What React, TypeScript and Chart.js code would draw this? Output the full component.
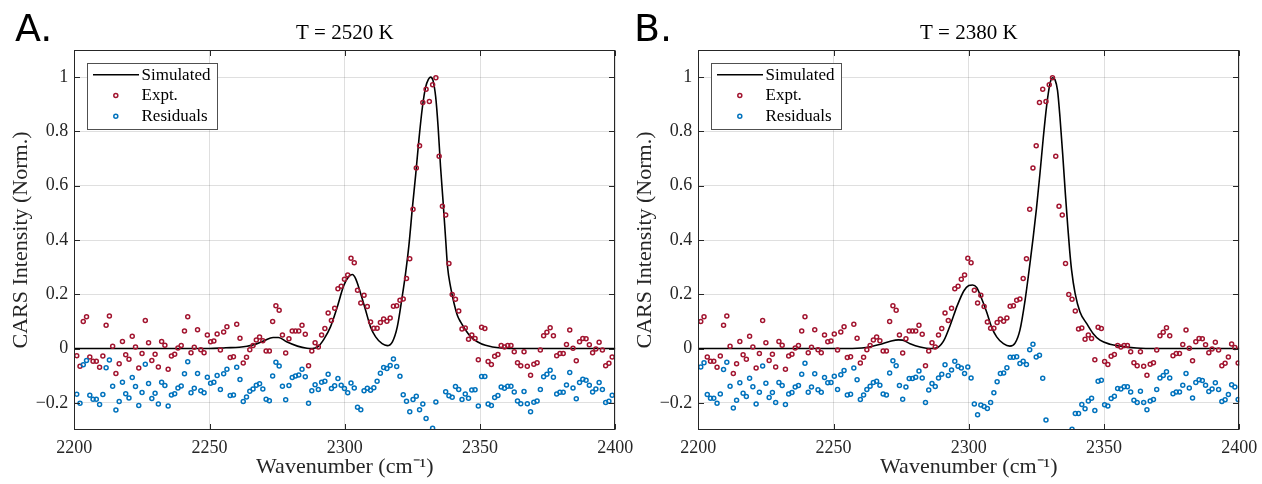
import React, { useEffect, useRef } from 'react';
import { Chart, registerables } from 'chart.js';

Chart.register(...registerables);

// ---------------- data ----------------
const X_TICKS = [2200, 2250, 2300, 2350, 2400];
const Y_TICKS = [-0.2, 0, 0.2, 0.4, 0.6, 0.8, 1];
const X_MIN = 2200;
const X_MAX = 2400;
const Y_MIN = -0.3;
const Y_MAX = 1.1;

// spectral sampling grid (start wavenumber, spacing) of each panel
const GRID_A_START = 2200.9;
const GRID_A_STEP = 1.207;
const GRID_B_START = 2198.5;
const GRID_B_STEP = 1.204;

// experimental spectrum (normalised), same measurement in both panels
const EXPT = [
  -0.026, -0.065, 0.100, 0.117, -0.031, -0.047, -0.047, -0.069, -0.027, 0.086,
  0.120, 0.009, -0.092, -0.056, 0.026, -0.023, -0.039, 0.045, 0.006, -0.072,
  -0.018, 0.103, 0.021, -0.044, -0.021, -0.068, 0.026, 0.012, -0.076, -0.027,
  -0.021, 0.002, 0.011, 0.065, 0.117, -0.015, 0.005, 0.069, -0.004, -0.015,
  0.050, 0.025, 0.028, 0.054, -0.005, 0.061, 0.080, -0.033, -0.030, 0.090,
  0.038, -0.053, -0.032, -0.004, 0.011, 0.032, 0.043, 0.029, -0.009, -0.009,
  0.100, 0.158, 0.141, 0.050, -0.016, 0.036, 0.065, 0.065, 0.065, 0.086,
  0.053, -0.063, -0.009, 0.021, 0.006, 0.050, 0.074, 0.131, 0.103, 0.149,
  0.220, 0.230, 0.255, 0.271, 0.333, 0.316, 0.215, 0.168, 0.196, 0.155,
  0.098, 0.075, 0.075, 0.096, 0.109, 0.101, 0.113, 0.156, 0.158, 0.178,
  0.183, 0.258, 0.331, 0.513, 0.665, 0.747, 0.907, 0.955, 0.910, 0.972,
  0.998, 0.709, 0.524, 0.492, 0.313, 0.199, 0.182, 0.138, 0.072, 0.076,
  0.034, 0.050, 0.037, -0.041, 0.079, 0.074, -0.048, -0.059, -0.028, -0.022,
  0.011, 0.006, 0.011, 0.011, -0.012, -0.052, -0.063, -0.012, -0.065, -0.098,
  -0.058, -0.052, -0.005, 0.047, 0.060, 0.077, 0.047, -0.026, -0.018, -0.018,
  0.015, 0.068, 0.001, -0.045, 0.025, 0.037, 0.036, 0.014, -0.015, -0.002,
  0.023, -0.005, -0.063, -0.054, -0.031, 0.017, 0.004, -0.053,
];

// residuals, panel A (null = below the visible range)
const RESID_A = [
  -0.168, -0.201, -0.060, -0.044, -0.172, -0.187, -0.187, -0.206, -0.169, -0.071,
  -0.042, -0.139, -0.226, -0.195, -0.124, -0.166, -0.182, -0.107, -0.140, -0.210,
  -0.162, -0.058, -0.129, -0.184, -0.165, -0.204, -0.124, -0.136, -0.212, -0.171,
  -0.166, -0.145, -0.138, -0.093, -0.049, -0.163, -0.146, -0.092, -0.155, -0.163,
  -0.106, -0.128, -0.124, -0.099, -0.151, -0.093, -0.076, -0.173, -0.171, -0.069,
  -0.114, -0.195, -0.178, -0.157, -0.149, -0.135, -0.130, -0.149, -0.187, -0.192,
  -0.101, -0.050, -0.064, -0.139, -0.189, -0.136, -0.107, -0.101, -0.097, -0.076,
  -0.104, -0.201, -0.155, -0.133, -0.151, -0.124, -0.120, -0.095, -0.147, -0.137,
  -0.110, -0.135, -0.147, -0.163, -0.127, -0.145, -0.216, -0.225, -0.155, -0.146,
  -0.154, -0.144, -0.120, -0.091, -0.070, -0.073, -0.062, -0.038, -0.066, -0.102,
  -0.170, -0.194, -0.233, -0.188, -0.176, -0.225, -0.204, -0.258, null, -0.294,
  -0.197, null, null, -0.159, -0.174, -0.179, -0.140, -0.151, -0.188, -0.167,
  -0.183, -0.153, -0.152, -0.212, -0.103, -0.103, -0.204, -0.210, -0.180, -0.173,
  -0.142, -0.146, -0.139, -0.139, -0.160, -0.193, -0.203, -0.158, -0.203, -0.233,
  -0.198, -0.193, -0.151, -0.104, -0.095, -0.080, -0.106, -0.167, -0.161, -0.161,
  -0.134, -0.088, -0.145, -0.185, -0.125, -0.113, -0.117, -0.135, -0.160, -0.149,
  -0.125, -0.151, -0.199, -0.194, -0.172, -0.133,
];

// residuals, panel B
const RESID_B = [
  null, null, -0.068, -0.052, -0.169, -0.183, -0.183, -0.201, -0.167, -0.077,
  -0.050, -0.139, -0.219, -0.190, -0.126, -0.165, -0.177, -0.109, -0.141, -0.204,
  -0.161, -0.064, -0.128, -0.180, -0.162, -0.199, -0.125, -0.136, -0.206, -0.167,
  -0.162, -0.142, -0.136, -0.095, -0.054, -0.161, -0.142, -0.093, -0.152, -0.161,
  -0.107, -0.126, -0.125, -0.102, -0.151, -0.096, -0.081, -0.171, -0.168, -0.072,
  -0.115, -0.188, -0.171, -0.151, -0.139, -0.125, -0.120, -0.135, -0.167, -0.171,
  -0.090, -0.045, -0.063, -0.136, -0.187, -0.142, -0.110, -0.110, -0.106, -0.083,
  -0.108, -0.199, -0.153, -0.129, -0.140, -0.108, -0.095, -0.060, -0.099, -0.079,
  -0.047, -0.065, -0.072, -0.092, -0.068, -0.108, -0.204, -0.244, -0.208, -0.213,
  -0.221, -0.199, -0.163, -0.122, -0.092, -0.090, -0.071, -0.032, -0.032, -0.030,
  -0.055, -0.047, -0.059, -0.004, 0.016, -0.031, -0.025, -0.109, -0.263, null,
  null, null, null, null, null, null, -0.297, -0.239, -0.239, -0.206,
  -0.222, -0.193, -0.183, -0.228, -0.120, -0.117, -0.207, -0.212, -0.184, -0.176,
  -0.147, -0.149, -0.141, -0.141, -0.160, -0.190, -0.199, -0.157, -0.199, -0.225,
  -0.193, -0.188, -0.151, -0.108, -0.099, -0.085, -0.108, -0.166, -0.160, -0.160,
  -0.135, -0.092, -0.145, -0.182, -0.125, -0.115, -0.118, -0.135, -0.158, -0.149,
  -0.126, -0.151, -0.195, -0.189, -0.169, -0.133, -0.142, -0.188,
];

// simulated spectra
const SIM_A_X = [
  2200, 2250, 2256, 2261, 2266, 2270, 2273.5, 2275.5, 2278.5, 2282.5,
  2286, 2288, 2290, 2292.3, 2294.7, 2297.2, 2299.6, 2301.5, 2302.8, 2304,
  2305.8, 2307.7, 2309.5, 2311.4, 2313.8, 2315.7, 2317.6, 2319.4, 2321.2, 2322.5,
  2323.7, 2325, 2326.2, 2327.4, 2328.7, 2329.9, 2330.9, 2331.7, 2332.6, 2333.6,
  2334.5, 2335.4, 2336.3, 2337.3, 2338, 2339.1, 2340.4, 2341.6, 2342.8, 2344.7,
  2346.6, 2349, 2352, 2357.7, 2365, 2400,
];
const SIM_A_Y = [
  0, 0, 0.003, 0.005, 0.013, 0.028, 0.041, 0.041, 0.025, 0.009,
  0.001, 0, 0.006, 0.035, 0.08, 0.153, 0.232, 0.266, 0.273, 0.258,
  0.205, 0.141, 0.08, 0.043, 0.018, 0.011, 0.025, 0.08, 0.19, 0.28,
  0.38, 0.52, 0.64, 0.77, 0.89, 0.964, 0.992, 1.0, 0.988, 0.927,
  0.816, 0.669, 0.546, 0.40, 0.30, 0.227, 0.166, 0.123, 0.098, 0.068,
  0.043, 0.025, 0.012, 0.002, 0, 0,
];
const SIM_B_X = [
  2200, 2255, 2262, 2267, 2271, 2274, 2275.5, 2278.3, 2282, 2286,
  2288.5, 2290.8, 2293.2, 2295.8, 2298.2, 2300, 2301.4, 2302.9, 2304.5, 2306.6,
  2308.4, 2310.3, 2312.8, 2315.2, 2317.1, 2318.9, 2320.8, 2322.6, 2323.8, 2325,
  2326.3, 2327.5, 2328.8, 2330, 2331, 2331.9, 2332.8, 2333.7, 2334.7, 2335.7,
  2336.6, 2337.3, 2338, 2339.3, 2341.1, 2343.6, 2346, 2348.5, 2352.2, 2355.9,
  2362, 2370, 2400,
];
const SIM_B_Y = [
  0, 0, 0.004, 0.015, 0.027, 0.032, 0.031, 0.018, 0.006, 0,
  0.004, 0.03, 0.088, 0.16, 0.213, 0.232, 0.234, 0.225, 0.19, 0.135,
  0.08, 0.043, 0.018, 0.009, 0.02, 0.068, 0.178, 0.313, 0.41, 0.515,
  0.644, 0.773, 0.896, 0.976, 0.998, 0.99, 0.951, 0.853, 0.718, 0.57,
  0.448, 0.36, 0.289, 0.203, 0.135, 0.092, 0.055, 0.031, 0.016, 0.009,
  0.002, 0, 0,
];

const SERIES_LABELS = ['Simulated', 'Expt.', 'Residuals'];
const TITLES = ['T = 2520 K', 'T = 2380 K'];
const LETTERS = ['A.', 'B.'];
const X_LABEL = 'Wavenumber (cm\u207B\u00B9)';
const Y_LABEL = 'CARS Intensity (Norm.)';

// ---------------- style ----------------
const SERIF = '"Liberation Serif", "Times New Roman", serif';
const RED = '#A2142F';
const BLUE = '#0072BD';
const AXIS = '#262626';
const GRID = 'rgba(38,38,38,0.15)';
const H = 484;

type PanelCfg = {
  left: number;
  width: number;
  yAxisWidth: number;
  padRight: number;
  yTitlePad: number;
  title: string;
  letter: string;
  letterX: number;
  simX: number[];
  simY: number[];
  resid: (number | null)[];
  start: number;
  step: number;
};

const PANELS: PanelCfg[] = [
  {
    left: 0, width: 641, yAxisWidth: 74.3, padRight: 25.7, yTitlePad: 8.3,
    title: TITLES[0], letter: LETTERS[0], letterX: 15,
    simX: SIM_A_X, simY: SIM_A_Y, resid: RESID_A, start: GRID_A_START, step: GRID_A_STEP,
  },
  {
    left: 631, width: 634, yAxisWidth: 67.3, padRight: 25.7, yTitlePad: 1.3,
    title: TITLES[1], letter: LETTERS[1], letterX: 634,
    simX: SIM_B_X, simY: SIM_B_Y, resid: RESID_B, start: GRID_B_START, step: GRID_B_STEP,
  },
];

function toPoints(vals: (number | null)[], start: number, step: number) {
  const out: { x: number; y: number }[] = [];
  vals.forEach((v, i) => {
    const x = start + step * i;
    if (v === null || x < X_MIN || x > X_MAX) return;
    out.push({ x, y: v });
  });
  return out;
}

function fmtY(v: number) {
  if (Math.abs(v) < 1e-9) return '0';
  if (Math.abs(v - 1) < 1e-9) return '1';
  return (v < 0 ? '\u2212' : '') + Math.abs(v).toFixed(1);
}

const framePlugin = {
  id: 'matlabFrame',
  afterDatasetsDraw(chart: any) {
    const { ctx, chartArea: a, scales } = chart;
    const L = Math.round(a.left) + 0.5;
    const R = Math.round(a.right) - 0.5;
    const T = Math.round(a.top) + 0.5;
    const B = Math.round(a.bottom) - 0.5;
    const tl = 5.5;
    ctx.save();
    ctx.strokeStyle = AXIS;
    ctx.lineWidth = 1;
    ctx.strokeRect(L, T, R - L, B - T);
    ctx.beginPath();
    X_TICKS.forEach((v) => {
      const x = Math.round(scales.x.getPixelForValue(v)) + 0.5;
      ctx.moveTo(x, B);
      ctx.lineTo(x, B - tl);
      ctx.moveTo(x, T);
      ctx.lineTo(x, T + tl);
    });
    Y_TICKS.forEach((v) => {
      const y = Math.round(scales.y.getPixelForValue(v)) + 0.5;
      ctx.moveTo(L, y);
      ctx.lineTo(L + tl, y);
      ctx.moveTo(R, y);
      ctx.lineTo(R - tl, y);
    });
    ctx.stroke();
    ctx.restore();
  },
};

const legendPlugin = {
  id: 'boxLegend',
  afterDraw(chart: any) {
    const { ctx, chartArea: a } = chart;
    const x0 = Math.round(a.left + 12.5) + 0.5;
    const y0 = Math.round(a.top + 12.8) + 0.5;
    const w = 130;
    const h = 66;
    ctx.save();
    ctx.fillStyle = '#ffffff';
    ctx.fillRect(x0, y0, w, h);
    ctx.strokeStyle = '#505050';
    ctx.lineWidth = 1;
    ctx.strokeRect(x0, y0, w, h);
    const rows = [11.3, 32, 52.8];
    const ds = chart.data.datasets;
    rows.forEach((dy, i) => {
      const y = y0 + dy;
      const d = ds[i];
      if (i === 0) {
        ctx.strokeStyle = '#000';
        ctx.lineWidth = 1.6;
        ctx.beginPath();
        ctx.moveTo(x0 + 5.5, y);
        ctx.lineTo(x0 + 51.5, y);
        ctx.stroke();
      } else {
        ctx.strokeStyle = d.borderColor;
        ctx.lineWidth = 1.5;
        ctx.beginPath();
        ctx.arc(x0 + 28.3, y, 2, 0, Math.PI * 2);
        ctx.stroke();
      }
      ctx.fillStyle = '#000';
      ctx.font = `17px ${SERIF}`;
      ctx.textBaseline = 'middle';
      ctx.textAlign = 'left';
      ctx.fillText(d.label, x0 + 54, y + 0.5);
    });
    ctx.restore();
  },
};

function Panel({ cfg }: { cfg: PanelCfg }) {
  const ref = useRef<HTMLCanvasElement | null>(null);
  useEffect(() => {
    if (!ref.current) return;
    const sim = cfg.simX.map((x, i) => ({ x, y: cfg.simY[i] }));
    const expt = toPoints(EXPT, cfg.start, cfg.step);
    const res = toPoints(cfg.resid, cfg.start, cfg.step);
    const chart = new Chart(ref.current, {
      type: 'scatter',
      data: {
        datasets: [
          {
            type: 'line',
            label: SERIES_LABELS[0],
            data: sim,
            borderColor: '#000000',
            borderWidth: 1.6,
            pointRadius: 0,
            cubicInterpolationMode: 'monotone',
            fill: false,
            order: 3,
          } as any,
          {
            label: SERIES_LABELS[1],
            data: expt,
            borderColor: RED,
            backgroundColor: 'rgba(255,255,255,0)',
            pointRadius: 2,
            borderWidth: 1.5,
            order: 2,
          },
          {
            label: SERIES_LABELS[2],
            data: res,
            borderColor: BLUE,
            backgroundColor: 'rgba(255,255,255,0)',
            pointRadius: 2,
            borderWidth: 1.5,
            order: 1,
          },
        ],
      },
      options: {
        responsive: false,
        animation: false,
        events: [],
        layout: { padding: { left: 0, right: cfg.padRight, top: 0, bottom: 0 } },
        plugins: {
          legend: { display: false },
          tooltip: { enabled: false },
          title: {
            display: true,
            text: cfg.title,
            fullSize: false,
            color: '#000',
            font: { family: SERIF, size: 21, weight: 'normal' },
            padding: { top: 21, bottom: 3.8 },
          },
        },
        scales: {
          x: {
            type: 'linear',
            min: X_MIN,
            max: X_MAX,
            afterBuildTicks: (s: any) => {
              s.ticks = X_TICKS.map((v) => ({ value: v }));
            },
            afterFit: (s: any) => {
              s.height = 54;
            },
            grid: { color: GRID, lineWidth: 1, drawTicks: false },
            border: { display: false },
            ticks: {
              color: AXIS,
              font: { family: SERIF, size: 18 },
              padding: 7,
              maxRotation: 0,
              autoSkip: false,
              callback: (v: any) => String(v),
            },
            title: {
              display: true,
              text: X_LABEL,
              color: AXIS,
              font: { family: SERIF, size: 22 },
              padding: { top: 0, bottom: 3.8 },
            },
          },
          y: {
            type: 'linear',
            min: Y_MIN,
            max: Y_MAX,
            afterBuildTicks: (s: any) => {
              s.ticks = Y_TICKS.map((v) => ({ value: v }));
            },
            afterFit: (s: any) => {
              s.width = cfg.yAxisWidth;
            },
            grid: { color: GRID, lineWidth: 1, drawTicks: false },
            border: { display: false },
            ticks: {
              color: AXIS,
              font: { family: SERIF, size: 18 },
              padding: 6,
              callback: (v: any) => fmtY(Number(v)),
            },
            title: {
              display: true,
              text: Y_LABEL,
              color: AXIS,
              font: { family: SERIF, size: 22 },
              padding: { top: cfg.yTitlePad, bottom: 0 },
            },
          },
        },
      } as any,
      plugins: [framePlugin, legendPlugin],
    });
    return () => chart.destroy();
  }, [cfg]);
  return (
    <>
      <canvas
        ref={ref}
        width={cfg.width}
        height={H}
        style={{ position: 'absolute', left: cfg.left, top: 0, width: cfg.width, height: H }}
      />
      <div
        style={{
          position: 'absolute',
          left: cfg.letterX,
          top: 8.8,
          font: '38px "DejaVu Sans", sans-serif',
          lineHeight: '38px',
          color: '#000',
          whiteSpace: 'nowrap',
        }}
      >
        {cfg.letter}
      </div>
    </>
  );
}

export default function App() {
  return (
    <div style={{ position: 'absolute', left: 0, top: 0, width: 1262, height: H, background: '#fff', overflow: 'hidden' }}>
      {PANELS.map((p, i) => (
        <Panel key={i} cfg={p} />
      ))}
    </div>
  );
}
